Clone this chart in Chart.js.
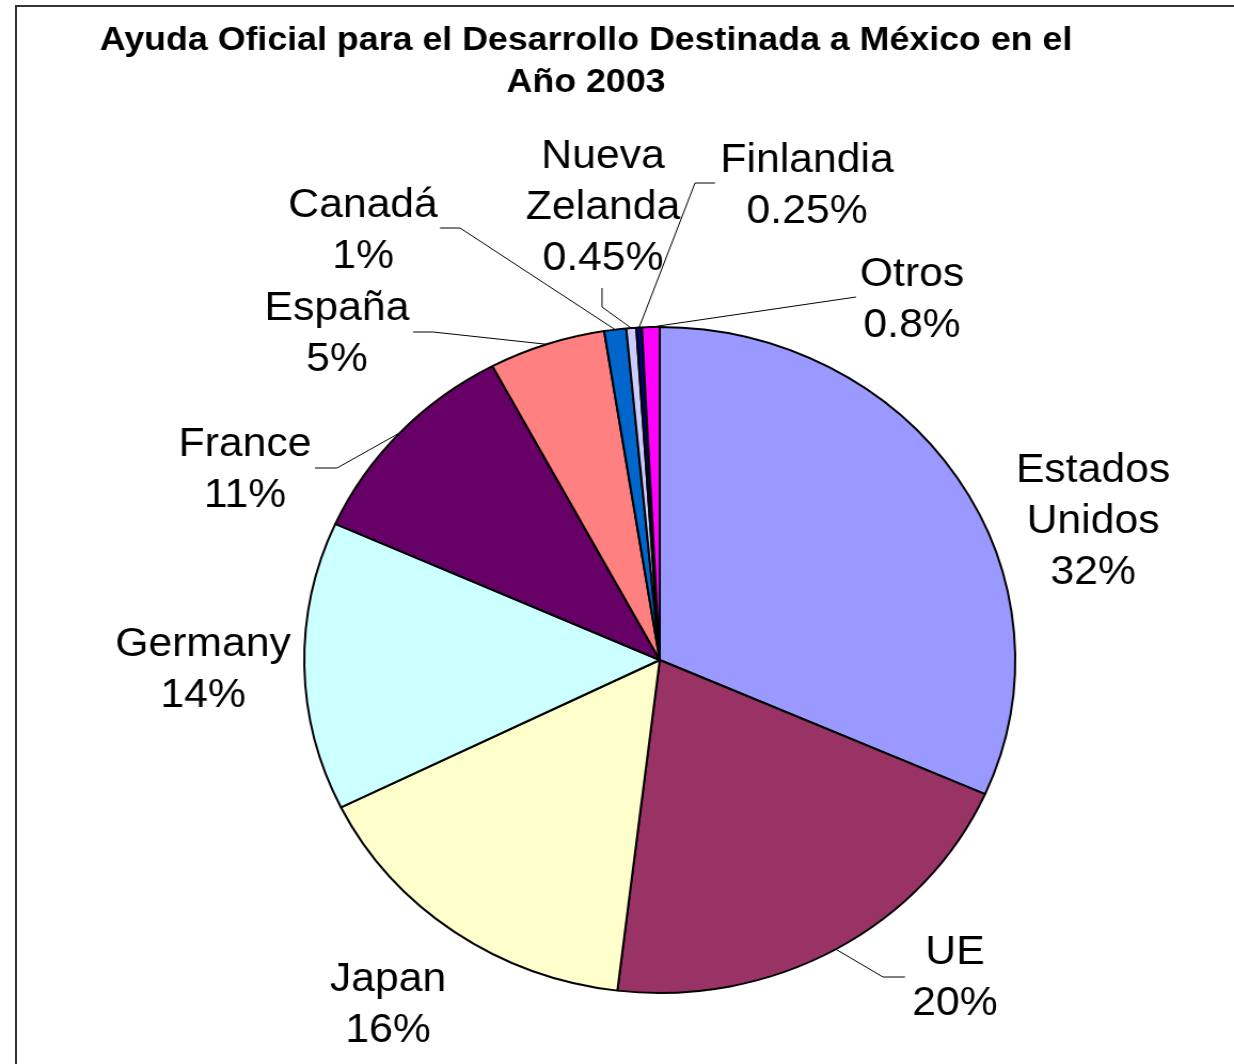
<!DOCTYPE html>
<html><head><meta charset="utf-8">
<script src="https://cdn.jsdelivr.net/npm/chart.js@4"></script>
<style>
html,body{margin:0;padding:0;background:#fff;overflow:hidden;width:1234px;height:1064px}
#frame{position:absolute;left:15px;top:5px;width:1400px;height:1400px;border:2px solid #333;box-sizing:border-box}
#wrap{position:absolute;left:0;top:0;width:1156px;height:1064px;transform:scaleX(1.0675);transform-origin:0 0}
canvas{display:block}
</style></head>
<body>
<div id="frame"></div>
<div id="wrap"><canvas id="c" width="1156" height="1064"></canvas></div>
<script>
// ---- data ----
const titleLines = ["Ayuda Oficial para el Desarrollo Destinada a México en el", "Año 2003"];
const categories = ["Estados Unidos", "UE", "Japan", "Germany", "France", "España", "Canadá", "Nueva Zelanda", "Finlandia", "Otros"];
const values = [31.6, 20.3, 15.8, 14.0, 10.5, 5.3, 1.0, 0.45, 0.25, 0.8];
const pctLabels = ["32%", "20%", "16%", "14%", "11%", "5%", "1%", "0.45%", "0.25%", "0.8%"];

// ---- styling / layout (screen coordinates) ----
const SX = 1234 / 1156;
const colors = ["#9999FF", "#993366", "#FFFFCC", "#CCFFFF", "#660066", "#FF8080", "#0066CC", "#CCCCFF", "#000080", "#FF00FF"];
const labelPos = [
  [1093, 471], [955, 953], [388, 980], [203, 645], [245, 445],
  [337, 309], [363, 206], [603, 157], [807, 161], [912, 275]
];
const leaders = [
  null,
  [[905, 977], [883, 977]],
  null,
  null,
  [[315, 468], [337, 468]],
  [[413, 332], [433, 332]],
  [[440, 228], [460, 228]],
  [[602, 288], [602, 307]],
  [[715, 183], [695, 183]],
  [[856, 297]]
];
const LINE_H = 51;

const labelPlugin = {
  id: 'labels',
  afterDraw(chart) {
    const ctx = chart.ctx;
    const meta = chart.getDatasetMeta(0);
    ctx.save();
    // title
    ctx.fillStyle = '#000';
    ctx.textAlign = 'center';
    ctx.textBaseline = 'middle';
    ctx.font = 'bold 33.5px "Liberation Sans", Arial, sans-serif';
    titleLines.forEach((t, i) => ctx.fillText(t, 586 / SX, 41 + i * 42));
    // leader lines
    ctx.strokeStyle = '#000';
    ctx.lineWidth = 1;
    meta.data.forEach((arc, i) => {
      const L = leaders[i];
      if (!L) return;
      const p = arc.getProps(['x', 'y', 'startAngle', 'endAngle', 'outerRadius'], true);
      const mid = (p.startAngle + p.endAngle) / 2;
      const ax = p.x + Math.cos(mid) * p.outerRadius;
      const ay = p.y + Math.sin(mid) * p.outerRadius;
      ctx.beginPath();
      ctx.moveTo(L[0][0] / SX, L[0][1]);
      for (let k = 1; k < L.length; k++) ctx.lineTo(L[k][0] / SX, L[k][1]);
      ctx.lineTo(ax, ay);
      ctx.stroke();
    });
    // labels
    ctx.font = '40px "Liberation Sans", Arial, sans-serif';
    categories.forEach((c, i) => {
      const lines = c.split(' ').concat([pctLabels[i]]);
      const [x, y] = labelPos[i];
      lines.forEach((t, k) => ctx.fillText(t, x / SX, y + k * LINE_H));
    });
    ctx.restore();
  }
};

new Chart(document.getElementById('c'), {
  type: 'pie',
  data: {
    labels: categories,
    datasets: [{
      data: values,
      backgroundColor: colors,
      borderColor: '#000',
      borderWidth: 2
    }]
  },
  options: {
    responsive: false,
    animation: false,
    layout: { padding: { left: 284, right: 204, top: 326, bottom: 70 } },
    plugins: { legend: { display: false }, tooltip: { enabled: false }, title: { display: false } }
  },
  plugins: [labelPlugin]
});
</script>
</body></html>
